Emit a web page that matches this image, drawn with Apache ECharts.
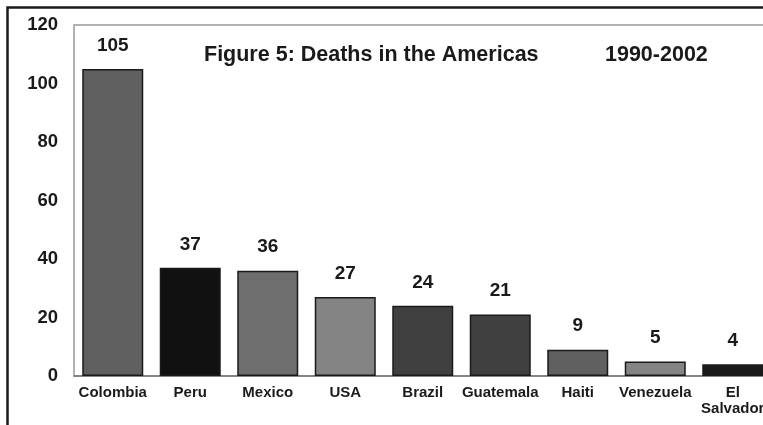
<!DOCTYPE html>
<html><head><meta charset="utf-8">
<script src="https://cdn.jsdelivr.net/npm/echarts@6/dist/echarts.min.js"></script>
<style>html,body{margin:0;padding:0;background:#fff}#c{width:763px;height:425px}</style>
</head><body><div id="c"></div>
<script>
const categories = ['Colombia','Peru','Mexico','USA','Brazil','Guatemala','Haiti','Venezuela','El\nSalvador'];
const deaths = [105, 37, 36, 27, 24, 21, 9, 5, 4];
const barColors = ['#606060','#111111','#6e6e6e','#848484','#404040','#404040','#606060','#848484','#1a1a1a'];
const yTicks = [0, 20, 40, 60, 80, 100, 120];
const titleText = 'Figure 5: Deaths in the Americas';
const periodText = '1990-2002';

const FONT = '"Liberation Sans", Arial, sans-serif';
const chart = echarts.init(document.getElementById('c'), null, {renderer:'canvas'});
chart.setOption({
  animation:false,
  backgroundColor:'#fff',
  title:[
    {text:titleText, left:199, top:39, textStyle:{fontFamily:FONT,fontWeight:'bold',fontSize:21.5,color:'#1a1a1a'}},
    {text:periodText, left:600, top:39, textStyle:{fontFamily:FONT,fontWeight:'bold',fontSize:21.5,color:'#1a1a1a'}}
  ],
  graphic:[
    {type:'polyline', shape:{points:[[7.5,425],[7.5,7.5],[763,7.5]]}, style:{stroke:'#1a1a1a',lineWidth:2.5,fill:null}, z:10}
  ],
  grid:{left:74, top:25, bottom:49, width:697.5, outerBoundsMode:'none', containLabel:false,
    show:true, borderColor:'#999', borderWidth:1.5, backgroundColor:'#fff'},
  xAxis:{type:'category', data:categories,
    axisLine:{lineStyle:{color:'#777',width:1.5}}, axisTick:{show:false},
    axisLabel:{fontFamily:FONT,fontWeight:'bold',fontSize:15,color:'#1a1a1a',margin:9,lineHeight:16,interval:0}},
  yAxis:{type:'value', min:0, max:120, interval:20,
    axisLine:{show:false}, axisTick:{show:false}, splitLine:{show:false},
    axisLabel:{fontFamily:FONT,fontWeight:'bold',fontSize:18.5,color:'#1a1a1a',margin:16,
      formatter:v=>yTicks.includes(v)?String(v):''}},
  series:[{type:'bar', barWidth:61,
    data:deaths.map((v,i)=>({value:v,itemStyle:{color:barColors[i]}})),
    itemStyle:{borderColor:'#1a1a1a',borderWidth:1.5},
    label:{show:true,position:'top',distance:14,fontFamily:FONT,fontWeight:'bold',fontSize:19,color:'#1a1a1a'}
  }]
});
</script></body></html>
